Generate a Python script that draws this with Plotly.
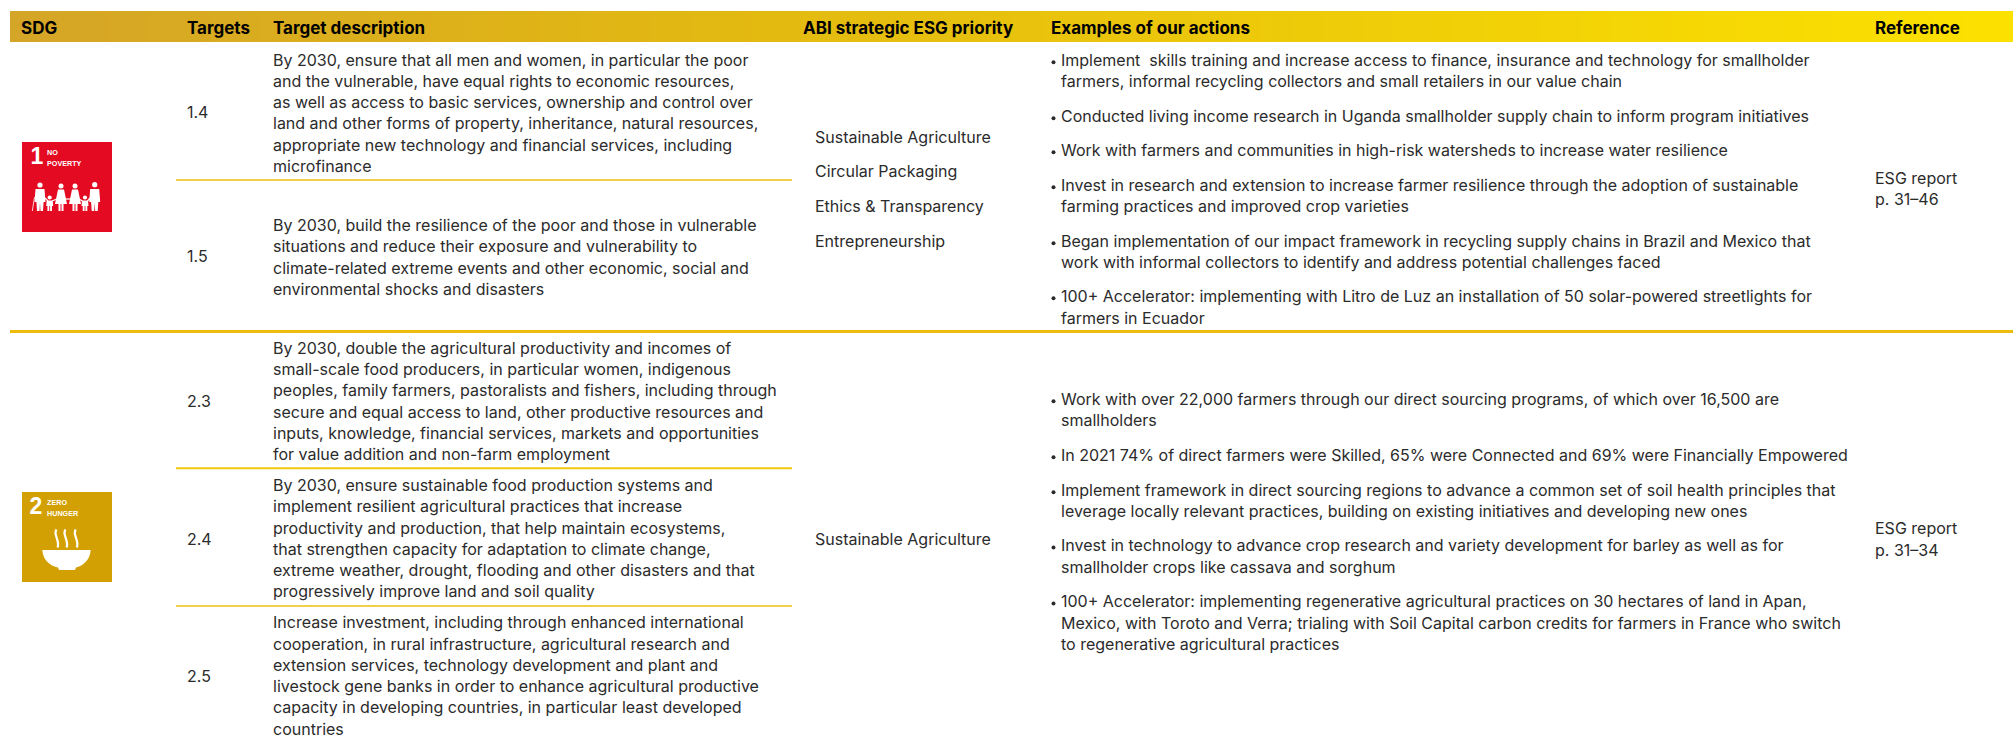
import plotly.graph_objects as go

# ---------- table content ----------
HEADERS = ["SDG", "Targets", "Target description", "ABI strategic ESG priority", "Examples of our actions", "Reference"]

TARGET_IDS = ["1.4", "1.5", "2.3", "2.4", "2.5"]

DESC_1_4 = ["By 2030, ensure that all men and women, in particular the poor",
            "and the vulnerable, have equal rights to economic resources,",
            "as well as access to basic services, ownership and control over",
            "land and other forms of property, inheritance, natural resources,",
            "appropriate new technology and financial services, including",
            "microfinance"]
DESC_1_5 = ["By 2030, build the resilience of the poor and those in vulnerable",
            "situations and reduce their exposure and vulnerability to",
            "climate-related extreme events and other economic, social and",
            "environmental shocks and disasters"]
DESC_2_3 = ["By 2030, double the agricultural productivity and incomes of",
            "small-scale food producers, in particular women, indigenous",
            "peoples, family farmers, pastoralists and fishers, including through",
            "secure and equal access to land, other productive resources and",
            "inputs, knowledge, financial services, markets and opportunities",
            "for value addition and non-farm employment"]
DESC_2_4 = ["By 2030, ensure sustainable food production systems and",
            "implement resilient agricultural practices that increase",
            "productivity and production, that help maintain ecosystems,",
            "that strengthen capacity for adaptation to climate change,",
            "extreme weather, drought, flooding and other disasters and that",
            "progressively improve land and soil quality"]
DESC_2_5 = ["Increase investment, including through enhanced international",
            "cooperation, in rural infrastructure, agricultural research and",
            "extension services, technology development and plant and",
            "livestock gene banks in order to enhance agricultural productive",
            "capacity in developing countries, in particular least developed",
            "countries"]

PRIORITY_1 = ["Sustainable Agriculture", "Circular Packaging", "Ethics & Transparency", "Entrepreneurship"]
PRIORITY_2 = ["Sustainable Agriculture"]

ACTIONS_1 = ["Implement  skills training and increase access to finance, insurance and technology for smallholder",
             "farmers, informal recycling collectors and small retailers in our value chain",
             "Conducted living income research in Uganda smallholder supply chain to inform program initiatives",
             "Work with farmers and communities in high-risk watersheds to increase water resilience",
             "Invest in research and extension to increase farmer resilience through the adoption of sustainable",
             "farming practices and improved crop varieties",
             "Began implementation of our impact framework in recycling supply chains in Brazil and Mexico that",
             "work with informal collectors to identify and address potential challenges faced",
             "100+ Accelerator: implementing with Litro de Luz an installation of 50 solar-powered streetlights for",
             "farmers in Ecuador"]
ACTIONS_2 = ["Work with over 22,000 farmers through our direct sourcing programs, of which over 16,500 are",
             "smallholders",
             "In 2021 74% of direct farmers were Skilled, 65% were Connected and 69% were Financially Empowered",
             "Implement framework in direct sourcing regions to advance a common set of soil health principles that",
             "leverage locally relevant practices, building on existing initiatives and developing new ones",
             "Invest in technology to advance crop research and variety development for barley as well as for",
             "smallholder crops like cassava and sorghum",
             "100+ Accelerator: implementing regenerative agricultural practices on 30 hectares of land in Apan,",
             "Mexico, with Toroto and Verra; trialing with Soil Capital carbon credits for farmers in France who switch",
             "to regenerative agricultural practices"]

REFERENCE_1 = ["ESG report", "p. 31\u201346"]
REFERENCE_2 = ["ESG report", "p. 31\u201334"]

# ---------- layout (pixels of the page) ----------
W, H = 2013, 739
FONT = "Inter"
BODY_SIZE = 16
HEAD_SIZE = 17
INK = "#2b2b2b"
DY = 1.2

X_SDG, X_TARGET, X_DESC, X_PRIO, X_PRIO_HEAD, X_BULLET, X_ACTION, X_REF = 21, 187, 273, 815, 803, 1051, 1061, 1875

fig = go.Figure()


def text(xs, ys, labels, size=BODY_SIZE, color=INK, family=FONT, weight=400):
    fig.add_trace(go.Scatter(x=xs, y=[v + DY for v in ys], text=labels, mode="text", textposition="middle right",
                             textfont=dict(family=family, size=size, color=color, weight=weight),
                             hoverinfo="skip", showlegend=False, cliponaxis=False))


def block(x, y0, labels, pitch=21.25, **kw):
    text([x] * len(labels), [y0 + i * pitch for i in range(len(labels))], labels, **kw)


# header gradient band (edges for x and y, one row of cells)
band_x = [10 + i * (W - 10) / 200 for i in range(201)]
band_mid = [(a + b) / 2 for a, b in zip(band_x, band_x[1:])]
fig.add_trace(go.Heatmap(x=band_x, y=[11, 42.4], z=[band_mid], showscale=False,
                         colorscale=[[0, "#d5a527"], [0.38, "#e3ba10"], [1, "#fce100"]], hoverinfo="skip"))

# header labels
text([X_SDG, X_TARGET, X_DESC, X_PRIO_HEAD, X_BULLET, X_REF], [28.2] * 6, HEADERS, size=HEAD_SIZE, color="#000000", weight=700)

# target numbers
text([X_TARGET] * 5, [113, 257, 402, 539.3, 676.3], TARGET_IDS)

# descriptions
block(X_DESC, 60.4, DESC_1_4)
block(X_DESC, 225.8, DESC_1_5)
block(X_DESC, 348.6, DESC_2_3)
block(X_DESC, 485.8, DESC_2_4)
block(X_DESC, 623.2, DESC_2_5)

# priorities
text([X_PRIO] * 4, [137.3, 171.7, 206.7, 241.7], PRIORITY_1)
text([X_PRIO], [539.7], PRIORITY_2)

# actions
ys_a1 = [60.7, 81.7, 116.7, 150.7, 185.7, 206.7, 241.7, 262.7, 296.7, 318.3]
ys_a2 = [399.7, 420.7, 455.7, 490.7, 512, 546, 567.7, 602, 623.7, 645]
text([X_ACTION] * 10, ys_a1, ACTIONS_1)
text([X_ACTION] * 10, ys_a2, ACTIONS_2)
bul1 = [60.7, 116.7, 150.7, 185.7, 241.7, 296.7]
bul2 = [399.7, 455.7, 490.7, 546, 602]
for b in (bul1, bul2):
    fig.add_trace(go.Scatter(x=[X_BULLET + 2.5] * len(b), y=[v + 1.5 for v in b], mode="markers",
                             marker=dict(size=4, color=INK), hoverinfo="skip", showlegend=False))

# references
block(X_REF, 178.7, REFERENCE_1)
block(X_REF, 529, REFERENCE_2, pitch=22)

shapes = []
# rules
for y, x0, x1, c, w in [(331.4, 10, W, "#edbb0c", 3), (180, 176, 792, "#f3cf4a", 2),
                        (468.3, 176, 792, "#f2c80f", 2), (606, 176, 792, "#f3cf4a", 2)]:
    shapes.append(dict(type="line", x0=x0, x1=x1, y0=y, y1=y, line=dict(color=c, width=w)))

# SDG icons
RED, GOLD = "#e30a22", "#d3a003"
shapes.append(dict(type="rect", x0=22, x1=112, y0=142, y1=232, fillcolor=RED, line_width=0, layer="below"))
shapes.append(dict(type="rect", x0=22, x1=112, y0=492, y1=582, fillcolor=GOLD, line_width=0, layer="below"))


def circle(cx, cy, r):
    return dict(type="circle", x0=cx - r, x1=cx + r, y0=cy - r, y1=cy + r, fillcolor="white", line_width=0)


def path(d, fill="white", line=None):
    return dict(type="path", path=d, fillcolor=fill, line=line or dict(width=0))


# family pictogram
for cx, cy, r in [(40, 185, 2.6), (49.7, 197.5, 2.1), (61, 186, 2.5), (75, 186, 2.5), (85, 197.5, 2.1), (94.7, 184.7, 2.6)]:
    shapes.append(circle(cx, cy, r))
# men
for cx in (40, 94.7):
    shapes.append(path(f"M{cx-4.5} 189 L{cx+4.5} 189 L{cx+5.5} 202 L{cx+3.6} 202 L{cx+3} 211 L{cx+0.5} 211 L{cx} 203 "
                       f"L{cx-0.5} 211 L{cx-3} 211 L{cx-3.6} 202 L{cx-5.5} 202 Z"))
# women
for cx in (61, 75):
    shapes.append(path(f"M{cx-3} 189.5 L{cx+3} 189.5 L{cx+6} 204 L{cx+2.5} 204 L{cx+2.5} 211 L{cx+0.5} 211 L{cx+0.5} 204 "
                       f"L{cx-0.5} 204 L{cx-0.5} 211 L{cx-2.5} 211 L{cx-2.5} 204 L{cx-6} 204 Z"))
# children
for cx in (49.7, 85):
    shapes.append(path(f"M{cx-3} 200.5 L{cx+3} 200.5 L{cx+3.5} 206 L{cx+2.3} 206 L{cx+2.3} 211 L{cx+0.4} 211 L{cx+0.4} 206 "
                       f"L{cx-0.4} 206 L{cx-0.4} 211 L{cx-2.3} 211 L{cx-2.3} 206 L{cx-3.5} 206 Z"))
# joined hands and the cane
for x0, y0, x1, y1 in [(45, 198, 48, 201), (52, 201, 57, 199), (65, 199, 71, 199), (79, 199, 82.5, 201), (87.5, 201, 90, 198)]:
    shapes.append(dict(type="line", x0=x0, y0=y0, x1=x1, y1=y1, line=dict(color="white", width=1.2)))
shapes.append(dict(type="line", x0=34.5, y0=197, x1=32.3, y1=211, line=dict(color="white", width=0.8)))

# bowl and steam
for x in (56.5, 65.5, 75.8):
    shapes.append(path(f"M{x} 529.5 C{x-4} 534 {x+4} 541 {x+1} 547.5", fill="rgba(0,0,0,0)", line=dict(color="white", width=2.2)))
shapes.append(path("M42.3 550 L90.7 550 C90 561 82 566 76 567.5 L75 570 L59 570 L58 567.5 C51 566 43 561 42.3 550 Z"))

# icon captions
ICON_FONT = "Liberation Sans"
text([30.5, 29.5], [157.3, 507.3], ["1", "2"], size=23, color="#ffffff", family=ICON_FONT, weight=700)
text([47, 47], [152, 502], ["NO", "ZERO"], size=7.2, color="#ffffff", family=ICON_FONT, weight=700)
text([47, 47], [162.8, 512.8], ["POVERTY", "HUNGER"], size=7.2, color="#ffffff", family=ICON_FONT, weight=700)

fig.update_layout(width=W, height=H, margin=dict(l=0, r=0, t=0, b=0), paper_bgcolor="white", plot_bgcolor="white",
                  showlegend=False, shapes=shapes,
                  xaxis=dict(range=[0, W], visible=False, fixedrange=True),
                  yaxis=dict(range=[H, 0], visible=False, fixedrange=True))

fig.write_html("out.html", config=dict(displayModeBar=False),
               post_script="document.body.style.margin='0';document.body.style.overflow='hidden';")
